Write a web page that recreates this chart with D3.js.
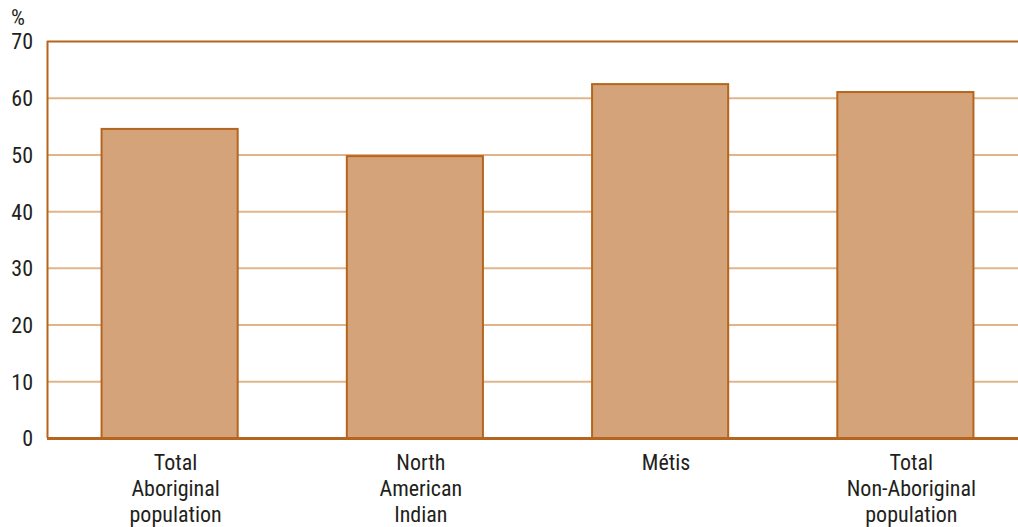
<!DOCTYPE html>
<html><head><meta charset="utf-8">
<script src="https://cdn.jsdelivr.net/npm/d3@7"></script>
<style>
body{margin:0;background:#fff;}
text{font-family:"Liberation Sans Narrow","Roboto Condensed",Roboto,sans-serif;fill:#231f20;}
</style></head><body>
<svg id="c" width="1018" height="527"></svg>
<script>
const categories = [["Total","Aboriginal","population"],["North","American","Indian"],["Métis"],["Total","Non-Aboriginal","population"]];
const values = [54.5, 49.7, 62.4, 61.0];
const yTicks = [0,10,20,30,40,50,60,70];
const unitLabel = "%";

const svg = d3.select("#c");
const mLeft = 47, mTop = 41, mBottom = 438;
const x = d3.scaleBand().domain(d3.range(categories.length)).range([mLeft, mLeft + 981]).paddingInner(0.445).paddingOuter(0.2225);
const y = d3.scaleLinear().domain([0,70]).range([mBottom, mTop]);

// gridlines
svg.append("g").selectAll("line").data(yTicks.filter(d=>d>0 && d<70)).join("line")
  .attr("x1", mLeft).attr("x2", 1018).attr("y1", d=>y(d)+0.5).attr("y2", d=>y(d)+0.5)
  .attr("stroke", "#e2b48c").attr("stroke-width", 2);

// top border
svg.append("line").attr("x1", mLeft).attr("x2", 1018).attr("y1", y(70)+0.5).attr("y2", y(70)+0.5)
  .attr("stroke", "#b5651d").attr("stroke-width", 2);

// bars
svg.append("g").selectAll("rect").data(values).join("rect")
  .attr("x", (d,i)=>x(i)).attr("width", x.bandwidth())
  .attr("y", d=>y(d)).attr("height", d=>mBottom - y(d))
  .attr("fill", "#d5a379").attr("stroke", "#b5651d").attr("stroke-width", 2);

// left axis line
svg.append("line").attr("x1", mLeft+0.5).attr("x2", mLeft+0.5).attr("y1", mTop).attr("y2", mBottom)
  .attr("stroke", "#b5651d").attr("stroke-width", 2);

// bottom axis
svg.append("line").attr("x1", mLeft).attr("x2", 1018).attr("y1", mBottom+0.5).attr("y2", mBottom+0.5)
  .attr("stroke", "#b5651d").attr("stroke-width", 3);

// y tick labels
const yAxis = d3.axisLeft(y).tickValues(yTicks).tickSize(0).tickPadding(0);
const ga = svg.append("g").attr("transform", `translate(33,0)`).call(yAxis);
ga.select(".domain").remove();
ga.selectAll("text").attr("font-size", 22).attr("dy", "0.36em").attr("fill", "#231f20");
ga.attr("font-family", null).attr("font-size", null);

svg.append("text").attr("x", 11).attr("y", 25).attr("font-size", 22).text(unitLabel);

// category labels
const xl = svg.append("g");
categories.forEach((lines, i) => {
  const cx = x(i) + x.bandwidth()/2 + 6;
  const t = xl.append("text").attr("text-anchor", "middle").attr("font-size", 22)
    .attr("x", cx).attr("y", 470);
  lines.forEach((l, j) => t.append("tspan").attr("x", cx).attr("dy", j===0?0:26).text(l));
});
</script>
</body></html>
